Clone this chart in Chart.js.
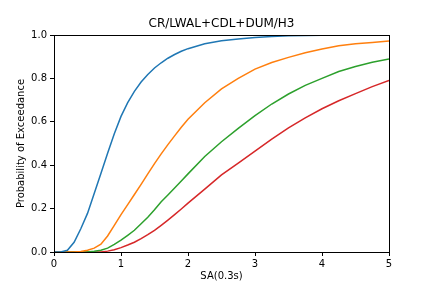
<!DOCTYPE html>
<html>
<head>
<meta charset="utf-8">
<script src="https://cdn.jsdelivr.net/npm/chart.js@4/dist/chart.umd.min.js"></script>
<style>
  html, body { margin: 0; padding: 0; background: #fff; }
  #wrap { width: 432px; height: 288px; }
</style>
</head>
<body>
<div id="wrap"><canvas id="grafico" width="432" height="288"></canvas></div>
<script>
// SA(0.3s) values shared by all curves
const sa = [0, 0.1, 0.2, 0.3, 0.4, 0.5, 0.6, 0.7, 0.8, 0.9, 1.0, 1.1, 1.2, 1.3, 1.4, 1.5, 1.6, 1.7, 1.8, 1.9, 2.0,
  2.25, 2.5, 2.75, 3.0, 3.25, 3.5, 3.75, 4.0, 4.25, 4.5, 4.75, 5.0];

// Probability of exceedance
const curva1 = [0, 0, 0.008, 0.045, 0.107, 0.178, 0.27, 0.362, 0.455, 0.545, 0.625, 0.688, 0.74, 0.783, 0.818, 0.848, 0.872, 0.893, 0.91, 0.925, 0.937,
  0.960, 0.973, 0.982, 0.988, 0.993, 0.996, 0.998, 0.999, 1.0, 1.0, 1.0, 1.0];
const curva2 = [0, 0, 0, 0, 0.002, 0.008, 0.018, 0.036, 0.074, 0.123, 0.172, 0.218, 0.265, 0.312, 0.36, 0.407, 0.452, 0.495, 0.535, 0.575, 0.612,
  0.688, 0.752, 0.80, 0.843, 0.873, 0.897, 0.918, 0.935, 0.95, 0.96, 0.966, 0.972];
const curva3 = [0, 0, 0, 0, 0, 0, 0.003, 0.008, 0.018, 0.035, 0.055, 0.077, 0.10, 0.13, 0.16, 0.195, 0.232, 0.263, 0.295, 0.327, 0.36,
  0.44, 0.508, 0.57, 0.628, 0.682, 0.728, 0.768, 0.80, 0.832, 0.855, 0.874, 0.889];
const curva4 = [0, 0, 0, 0, 0, 0, 0, 0, 0.004, 0.01, 0.02, 0.032, 0.045, 0.062, 0.08, 0.1, 0.123, 0.147, 0.172, 0.198, 0.225,
  0.29, 0.355, 0.41, 0.465, 0.52, 0.572, 0.618, 0.66, 0.697, 0.73, 0.762, 0.79];

const xTicks = [0, 1, 2, 3, 4, 5];
const yTicks = [0, 0.2, 0.4, 0.6, 0.8, 1.0];

const series = [
  { valores: curva1, color: '#1f77b4' },
  { valores: curva2, color: '#ff7f0e' },
  { valores: curva3, color: '#2ca02c' },
  { valores: curva4, color: '#d62728' }
];

const titulo = 'CR/LWAL+CDL+DUM/H3';
const fuente = 'DejaVu Sans';

// frame around the plot area (matplotlib spines) and title centred over it
const marco = {
  id: 'marco',
  afterDatasetsDraw(chart) {
    const a = chart.chartArea;
    const ctx = chart.ctx;
    ctx.save();
    ctx.strokeStyle = '#000';
    ctx.lineWidth = 1;
    ctx.strokeRect(Math.round(a.left) + 0.5, Math.round(a.top) + 0.5,
      Math.round(a.right - a.left), Math.round(a.bottom - a.top));
    ctx.fillStyle = '#000';
    ctx.font = '12px "' + fuente + '"';
    ctx.textAlign = 'center';
    ctx.textBaseline = 'middle';
    ctx.fillText(titulo, (a.left + a.right) / 2, a.top - 11);
    ctx.restore();
  }
};

new Chart(document.getElementById('grafico').getContext('2d'), {
  type: 'line',
  data: {
    datasets: series.map(s => ({
      data: sa.map((x, i) => ({ x: x, y: s.valores[i] })),
      borderColor: s.color,
      backgroundColor: s.color,
      borderWidth: 1.5,
      pointRadius: 0,
      tension: 0,
      fill: false
    }))
  },
  options: {
    responsive: false,
    animation: false,
    layout: { padding: { left: 0, right: 43, top: 35, bottom: 0 } },
    plugins: {
      legend: { display: false },
      tooltip: { enabled: false },
      title: { display: false }
    },
    scales: {
      x: {
        type: 'linear',
        min: 0,
        max: 5,
        afterFit: s => { s.height = 36; },
        afterBuildTicks: s => { s.ticks = xTicks.map(v => ({ value: v })); },
        grid: { drawOnChartArea: false, drawTicks: true, tickLength: 4, color: '#000' },
        border: { display: false },
        ticks: {
          color: '#000',
          padding: 2,
          maxRotation: 0,
          font: { family: fuente, size: 10 },
          callback: v => String(v)
        },
        title: {
          display: true,
          text: 'SA(0.3s)',
          color: '#000',
          font: { family: fuente, size: 10 },
          padding: { top: 0, bottom: 6 }
        }
      },
      y: {
        type: 'linear',
        min: 0,
        max: 1,
        afterFit: s => { s.width = 54; },
        afterBuildTicks: s => { s.ticks = yTicks.map(v => ({ value: v })); },
        grid: { drawOnChartArea: false, drawTicks: true, tickLength: 4, color: '#000' },
        border: { display: false },
        ticks: {
          color: '#000',
          padding: 3,
          font: { family: fuente, size: 10 },
          callback: v => Number(v).toFixed(1)
        },
        title: {
          display: true,
          text: 'Probability of Exceedance',
          color: '#000',
          font: { family: fuente, size: 10 },
          padding: { top: 15, bottom: 0 }
        }
      }
    }
  },
  plugins: [marco]
});
</script>
</body>
</html>
